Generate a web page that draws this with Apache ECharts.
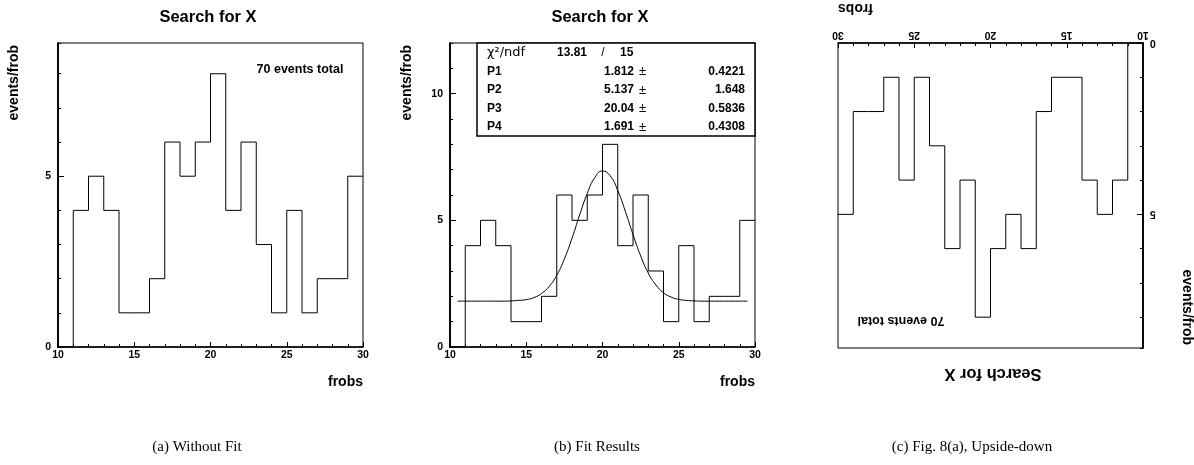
<!DOCTYPE html>
<html><head><meta charset="utf-8">
<script src="https://cdn.jsdelivr.net/npm/echarts@6/dist/echarts.min.js"></script>
<style>html,body{margin:0;padding:0;background:#fff}#c{width:1194px;height:465px}</style>
</head><body><div id="c"></div>
<script>
// ---- data ----
const binLow = [10,11,12,13,14,15,16,17,18,19,20,21,22,23,24,25,26,27,28,29];
const binHigh = 30;
const counts = [0,4,5,4,1,1,2,6,5,6,8,4,6,3,1,4,1,2,2,5];
const fitX = [10.5,11,11.5,12,12.5,13,13.5,14,14.5,15,15.5,16,16.5,17,17.5,18,18.5,19,19.5,20,20.5,21,21.5,22,22.5,23,23.5,24,24.5,25,25.5,26,26.5,27,27.5,28,28.5,29,29.5];
const fitY = [1.81,1.81,1.81,1.81,1.81,1.81,1.81,1.82,1.84,1.87,1.95,2.11,2.39,2.83,3.48,4.29,5.21,6.06,6.69,6.95,6.76,6.18,5.35,4.44,3.60,2.92,2.45,2.14,1.97,1.88,1.84,1.82,1.81,1.81,1.81,1.81,1.81,1.81,1.81];
const parNames = ['P1','P2','P3','P4'];
const parValues = ['1.812','5.137','20.04','1.691'];
const parErrors = ['0.4221','1.648','0.5836','0.4308'];
const chi2Label = 'χ²/ndf';
const chi2Value = '13.81';
const ndfValue = '15';
const titleText = 'Search for X';
const xName = 'frobs';
const yName = 'events/frob';
const totalText = '70 events total';
const captions = ['(a) Without Fit', '(b) Fit Results', '(c) Fig. 8(a), Upside-down'];
const xMin = 10, xMax = 30;
const yMaxA = 8.9, yMaxB = 12;

// ---- build ----
const FF = '"Liberation Sans", Arial, Helvetica, sans-serif';
const SERIF = '"Liberation Serif", "Times New Roman", serif';
const histPts = binLow.map((x, i) => [x, counts[i]]).concat([[binHigh, counts[counts.length - 1]]]);
const fitPts = fitX.map((x, i) => [x, fitY[i]]);

const black = '#000';
function xAx(gi, extra) {
  return Object.assign({
    type: 'value', gridIndex: gi, min: xMin, max: xMax, interval: 5, position: 'bottom',
    axisLine: { show: true, onZero: false, lineStyle: { color: black, width: 1.5 } },
    axisTick: { show: true, inside: true, length: 5, lineStyle: { color: black, width: 1 } },
    minorTick: { show: true, splitNumber: 5, length: 3, lineStyle: { color: black, width: 1 } },
    splitLine: { show: false }, minorSplitLine: { show: false },
    axisLabel: { color: black, fontSize: 10.5, fontWeight: 'bold', fontFamily: FF, margin: 3 }
  }, extra || {});
}
function yMinor(gi, max, extra) {
  return Object.assign({
    type: 'value', gridIndex: gi, min: 0, max: max, interval: 1, position: 'left', offset: 0,
    axisLine: { show: true, onZero: false, lineStyle: { color: black, width: 1.5 } },
    axisTick: { show: true, inside: true, length: 3, lineStyle: { color: black, width: 1 } },
    splitLine: { show: false },
    axisLabel: { show: false }
  }, extra || {});
}
function yMajor(gi, max, extra) {
  return Object.assign({
    type: 'value', gridIndex: gi, min: 0, max: max, interval: 5, position: 'left', offset: 0,
    axisLine: { show: true, onZero: false, lineStyle: { color: black, width: 1.5 } },
    axisTick: { show: true, inside: true, length: 6, lineStyle: { color: black, width: 1 } },
    splitLine: { show: false },
    axisLabel: { color: black, fontSize: 10.5, fontWeight: 'bold', fontFamily: FF, margin: 7, showMaxLabel: false }
  }, extra || {});
}
const gridBase = { show: true, borderColor: black, borderWidth: 1, backgroundColor: 'transparent', containLabel: false };

function txt(x, y, text, size, opts) {
  opts = opts || {};
  return {
    type: 'text', x: x, y: y, rotation: opts.rotation || 0, z: 100,
    style: {
      text: text, fill: black, fontSize: size, fontWeight: opts.weight || 'bold',
      fontFamily: opts.family || FF, align: opts.align || 'center', verticalAlign: opts.valign || 'middle'
    }
  };
}

const graphics = [];
// panel a texts
graphics.push(txt(208, 17, titleText, 16.5));
graphics.push(txt(363, 382, xName, 14, { align: 'right' }));
graphics.push(txt(14, 45, yName, 14, { rotation: Math.PI / 2, align: 'right' }));
graphics.push(txt(300, 70, totalText, 12.5));
// panel b texts
graphics.push(txt(600, 17, titleText, 16.5));
graphics.push(txt(755, 382, xName, 14, { align: 'right' }));
graphics.push(txt(407, 45, yName, 14, { rotation: Math.PI / 2, align: 'right' }));
// stats box
graphics.push({ type: 'rect', z: 90, shape: { x: 477, y: 43, width: 278, height: 93 }, style: { fill: '#fff', stroke: black, lineWidth: 1.5 } });
const rowY = [53, 71.5, 90, 108.5, 127];
graphics.push(txt(487, rowY[0], chi2Label, 13, { align: 'left', weight: 'normal', family: '"DejaVu Sans", ' + FF }));
graphics.push(txt(557, rowY[0], chi2Value, 12, { align: 'left' }));
graphics.push(txt(603, rowY[0], '/', 12, { align: 'center', weight: 'normal' }));
graphics.push(txt(620, rowY[0], ndfValue, 12, { align: 'left' }));
for (let i = 0; i < parNames.length; i++) {
  graphics.push(txt(487, rowY[i + 1], parNames[i], 12, { align: 'left' }));
  graphics.push(txt(634, rowY[i + 1], parValues[i], 12, { align: 'right' }));
  graphics.push(txt(642.5, rowY[i + 1], '±', 13, { align: 'center', weight: 'normal' }));
  graphics.push(txt(745, rowY[i + 1], parErrors[i], 12, { align: 'right' }));
}
// panel c texts (upside-down)
graphics.push(txt(993, 374, titleText, 16.5, { rotation: Math.PI }));
graphics.push(txt(838, 8, xName, 14, { rotation: Math.PI, align: 'right' }));
graphics.push(txt(1187, 345, yName, 14, { rotation: -Math.PI / 2, align: 'right' }));
graphics.push(txt(901, 320, totalText, 12.5, { rotation: Math.PI }));
// captions
const capX = [197, 597, 972];
captions.forEach((c, i) => graphics.push(txt(capX[i], 447, c, 15, { weight: 'normal', family: SERIF })));

const option = {
  animation: false,
  backgroundColor: '#fff',
  grid: [
    Object.assign({ left: 58, top: 43, width: 305, height: 304 }, gridBase),
    Object.assign({ left: 450, top: 43, width: 305, height: 304 }, gridBase),
    Object.assign({ left: 838, top: 43, width: 305, height: 305 }, gridBase)
  ],
  xAxis: [
    xAx(0),
    xAx(1),
    xAx(2, { inverse: true, position: 'top', axisLabel: { color: black, fontSize: 10.5, fontWeight: 'bold', fontFamily: FF, margin: 3, rotate: 180 } })
  ],
  yAxis: [
    yMinor(0, yMaxA),
    yMajor(0, yMaxA),
    yMinor(1, yMaxB),
    yMajor(1, yMaxB),
    yMinor(2, yMaxA, { inverse: true, position: 'right' }),
    yMajor(2, yMaxA, { inverse: true, position: 'right', axisLabel: { color: black, fontSize: 10.5, fontWeight: 'bold', fontFamily: FF, margin: 7, showMaxLabel: false, rotate: 180 } })
  ],
  series: [
    { type: 'line', xAxisIndex: 0, yAxisIndex: 0, step: 'end', data: histPts, symbol: 'none', lineStyle: { color: black, width: 1 }, silent: true },
    { type: 'line', xAxisIndex: 1, yAxisIndex: 2, step: 'end', data: histPts, symbol: 'none', lineStyle: { color: black, width: 1 }, silent: true },
    { type: 'line', xAxisIndex: 1, yAxisIndex: 2, smooth: true, data: fitPts, symbol: 'none', lineStyle: { color: black, width: 1 }, silent: true },
    { type: 'line', xAxisIndex: 2, yAxisIndex: 4, step: 'end', data: histPts, symbol: 'none', lineStyle: { color: black, width: 1 }, silent: true }
  ],
  graphic: graphics
};
const chart = echarts.init(document.getElementById('c'), null, { renderer: 'canvas' });
chart.setOption(option);
</script>
</body></html>
